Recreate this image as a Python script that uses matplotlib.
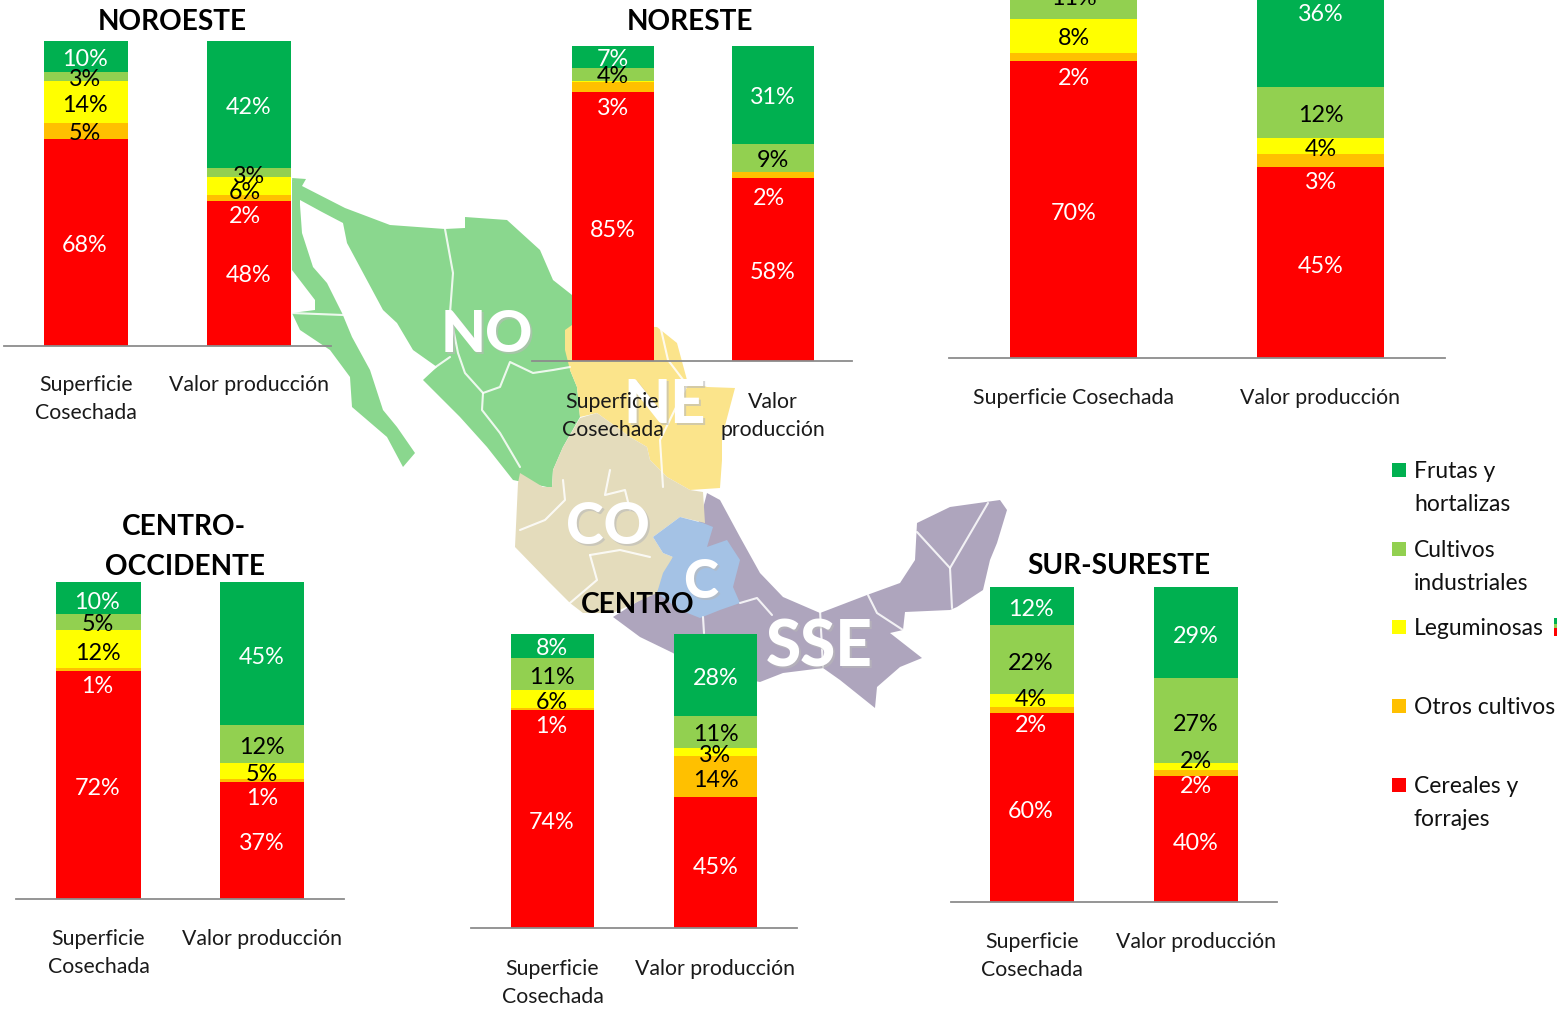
import matplotlib
matplotlib.use("Agg")
import matplotlib.pyplot as plt
from matplotlib.patches import Polygon, Rectangle
import numpy as np

W, H = 1557, 1010
plt.rcParams['font.family'] = ['Lato', 'DejaVu Sans']
FS_VAL = 16.8
FS_CAT = 15.3
FS_LEG = 16.5

# ---------- data ----------
series_names = ['Frutas y\nhortalizas', 'Cultivos\nindustriales', 'Leguminosas',
                'Otros cultivos', 'Cereales y\nforrajes']
noroeste_sup = [10, 3, 14, 5, 68]
noroeste_val = [42, 3, 6, 2, 48]
noreste_sup = [7, 4, 0.5, 3, 85]
noreste_val = [31, 9, 0, 2, 58]
centronorte_sup = [9, 11, 8, 2, 70]
centronorte_val = [36, 12, 4, 3, 45]
occidente_sup = [10, 5, 12, 1, 72]
occidente_val = [45, 12, 5, 1, 37]
centro_sup = [8, 11, 6, 1, 74]
centro_val = [28, 11, 3, 14, 45]
sureste_sup = [12, 22, 4, 2, 60]
sureste_val = [29, 27, 2, 2, 40]

colors = ['#00B050', '#92D050', '#FFFF00', '#FFC000', '#FF0000']
AXIS_GREY = '#8C8C8C'

# ---------- layout (pixels), separate from the values ----------
panels = [
    dict(sup=noroeste_sup, val=noroeste_val, cats=['Superficie\nCosechada', 'Valor producción'],
         x0=4, x1=331, top=41, base=346, c=(86, 249), bw=84, pad=21,
         dy=[[3, 3, 3, 3, 3], [3, 4, 7, 18, 2]], dx=[[-1]*5, [0, 0, -4, -4, 0]]),
    dict(sup=noreste_sup, val=noreste_val, cats=['Superficie\nCosechada', 'Valor\nproducción'],
         x0=532, x1=852, top=46, base=361, c=(612.5, 772.5), bw=82, pad=22,
         dy=[[2, 2, 0, 21, 4], [3, 3, 0, 23, 3]], dx=[[0]*5, [0, 0, 0, -4, 0]]),
    dict(sup=centronorte_sup, val=centronorte_val, cats=['Superficie Cosechada', 'Valor producción'],
         x0=949, x1=1445, top=-66, base=358, c=(1073.5, 1320.5), bw=127, pad=21.5,
         dy=[[3, 3, 3, 22, 4], [4, 3, 3, 22, 4]], dx=[[0]*5, [0]*5]),
    dict(sup=occidente_sup, val=occidente_val, cats=['Superficie\nCosechada', 'Valor producción'],
         x0=16, x1=344, top=582, base=899, c=(98.5, 262), bw=84, pad=21.5,
         dy=[[5, 3, 5, 17, 4], [4, 4, 4, 18, 3]], dx=[[-1]*5, [0]*5]),
    dict(sup=centro_sup, val=centro_val, cats=['Superficie\nCosechada', 'Valor producción'],
         x0=471, x1=797, top=634, base=928, c=(552.5, 715.5), bw=83, pad=22,
         dy=[[3, 4, 4, 18, 3], [4, 3, 4, 4, 5]], dx=[[-1]*5, [0]*5]),
    dict(sup=sureste_sup, val=sureste_val, cats=['Superficie\nCosechada', 'Valor producción'],
         x0=951, x1=1277, top=587, base=902, c=(1032, 1195.5), bw=84, pad=21.5,
         dy=[[4, 4, -1, 16, 4], [4, 4, -5, 14, 4]], dx=[[-1]*5, [0]*5]),
]
titles = [('NOROESTE', 172, 22), ('NORESTE', 690, 22), ('CENTRO-', 184, 527),
          ('OCCIDENTE', 185, 567), ('CENTRO', 638, 605), ('SUR-SURESTE', 1119, 566)]
legend_y = [470, 549, 627, 706, 785]

fig = plt.figure(figsize=(W/100, H/100), dpi=100, facecolor='white')

# ---------- background map (decorative) ----------
bg = fig.add_axes([0, 0, 1, 1], zorder=0)
bg.set_xlim(0, W); bg.set_ylim(H, 0); bg.axis('off')

GREEN, YEL, TAN, BLUE, PUR = '#8AD78E', '#FBE48B', '#E4DCBC', '#A4C2E5', '#AEA5BD'
regions = [
 (GREEN, [(292,178),(306,179),(302,186),(345,208),(390,225),(445,229),(465,228),(465,217),(507,220),
          (540,250),(553,280),(572,295),(572,361),(570,370),(577,387),(580,417),(563,447),(553,470),
          (552,487),(547,487),(513,480),(487,447),(460,417),(440,397),(423,380),(437,367),(413,350),
          (397,323),(383,310),(347,243),(343,223),(322,212),(300,200)]),
 (GREEN, [(292,178),(300,195),(300,205),(302,233),(313,267),(327,283),(342,313),(352,337),(370,370),
          (383,410),(397,427),(415,453),(403,467),(387,437),(352,407),(350,377),(330,350),(300,330),(292,313),
          (315,310),(315,300),(292,270)]),
 (YEL, [(565,330),(572,325),(657,327),(677,343),(687,380),(707,387),(735,388),(722,437),(722,460),
        (720,488),(690,490),(667,477),(650,460),(647,447),(630,437),(597,413),(580,417),
        (577,387),(570,370),(565,350)]),
 (PUR, [(707,493),(720,500),(740,537),(760,573),(783,597),(820,613),(867,595),(900,583),(915,560),
        (917,523),(950,507),(1000,500),(1007,510),(997,543),(990,560),(983,590),(957,607),(950,610),
        (905,612),(903,630),(890,633),(922,658),(900,667),(877,687),(875,708),(840,680),(823,668),
        (783,673),(760,682),(700,670),(673,653),(640,637),(613,617),(640,600),(700,520)]),
 (TAN, [(552,487),(553,470),(563,447),(580,418),(597,413),(630,437),(647,447),(650,460),(667,477),
        (690,490),(703,492),(705,523),(680,517),(653,537),(663,553),(673,557),(657,593),(613,613),
        (583,613),(570,603),(550,583),(515,547),(518,483),(520,473),(543,487)]),
 (BLUE, [(653,537),(680,517),(703,523),(713,527),(707,547),(727,540),(740,560),(733,587),(740,603),
         (720,610),(700,618),(680,610),(657,593),(663,573),(673,557),(663,553)]),
]
for col, pts in regions:
    bg.add_patch(Polygon(pts, closed=True, fc=col, ec='none', zorder=1))

white_lines = [
 [(445,229),(453,273),(450,313),(458,353),(465,373),(483,393),(482,410),(500,433),(520,467)],
 [(450,357),(427,373)],
 [(292,313),(343,315)],
 [(483,393),(500,387),(510,362),(533,373),(553,370),(570,367)],
 [(917,532),(950,568),(988,503)], [(950,568),(952,608)],
 [(868,595),(877,613),(903,630)], [(820,610),(823,667)],
 [(703,617),(704,633)], [(740,603),(757,598),(772,615)],
 [(660,325),(668,360),(687,385),(660,440),(663,487)],
 [(520,530),(545,520),(565,500),(563,480)], [(590,555),(620,550),(650,557)],
 [(590,555),(597,580),(570,603)], [(610,470),(605,495),(625,490),(630,510)],
]
for ln in white_lines:
    a = np.array(ln)
    bg.plot(a[:, 0], a[:, 1], color='white', lw=1.5, alpha=0.85, zorder=2, solid_capstyle='round')

for txt, x, y, fs in [('NO', 487, 336, 42), ('NE', 665, 405, 44), ('CO', 608, 527, 41),
                      ('C', 701, 582, 38), ('SSE', 819, 648, 46)]:
    bg.text(x+2, y+2, txt, color='#B9B9B9', alpha=0.6, fontsize=fs, fontweight='black', ha='center', va='center', zorder=3)
    bg.text(x, y, txt, color='white', fontsize=fs, fontweight='black', ha='center', va='center', zorder=3)

# ---------- titles ----------
for t, x, y in titles:
    bg.text(x, y, t, fontsize=20.2, fontweight='bold', ha='center', va='center', color='black', zorder=4)

# ---------- legend ----------
for name, col, y in zip(series_names, colors, legend_y):
    bg.add_patch(Rectangle((1392, y-7), 14, 14, fc=col, ec='none', zorder=4))
    bg.text(1414, y-9, name, fontsize=FS_LEG, va='top', ha='left', color='#111111', linespacing=1.7, zorder=4)
for (y0, y1, c) in [(618, 624, colors[0]), (624, 628, colors[1]), (628, 636, colors[4])]:
    bg.add_patch(Rectangle((1554, y0), 3, y1-y0, fc=c, ec='none', zorder=4))

# ---------- stacked bars ----------
for p in panels:
    ax = fig.add_axes([p['x0']/W, 1-p['base']/H, (p['x1']-p['x0'])/W, (p['base']-p['top'])/H], zorder=2)
    ax.patch.set_visible(False)
    pitch = p['c'][1]-p['c'][0]
    ax.set_xlim((p['x0']-p['c'][0])/pitch, (p['x1']-p['c'][0])/pitch)
    ax.set_ylim(0, 100)
    for i, vals in enumerate([p['sup'], p['val']]):
        v = np.array(vals, dtype=float)
        share = v/v.sum()*100
        bottom = 0.0
        for s in range(4, -1, -1):
            if share[s] <= 0:
                continue
            ax.bar(i, share[s], bottom=bottom, width=p['bw']/pitch, color=colors[s], lw=0)
            if vals[s] >= 1:
                nudge = p['dy'][i][s]
                tc = 'white' if s in (0, 4) or (s == 3 and nudge >= 10) else 'black'
                ax.annotate(f'{vals[s]:g}%', (i, bottom+share[s]/2), xytext=(p['dx'][i][s], -nudge),
                            textcoords='offset pixels', ha='center', va='center',
                            color=tc, fontsize=FS_VAL, clip_on=False)
            bottom += share[s]
    for sp in ('top', 'left', 'right'):
        ax.spines[sp].set_visible(False)
    ax.spines['bottom'].set_color(AXIS_GREY)
    ax.spines['bottom'].set_linewidth(1.3)
    ax.set_yticks([])
    ax.set_xticks([0, 1])
    ax.set_xticklabels(p['cats'], fontsize=FS_CAT, color='#1a1a1a', linespacing=1.52)
    ax.tick_params(axis='x', length=0, pad=p['pad'])

fig.savefig('out.png', dpi=100)
